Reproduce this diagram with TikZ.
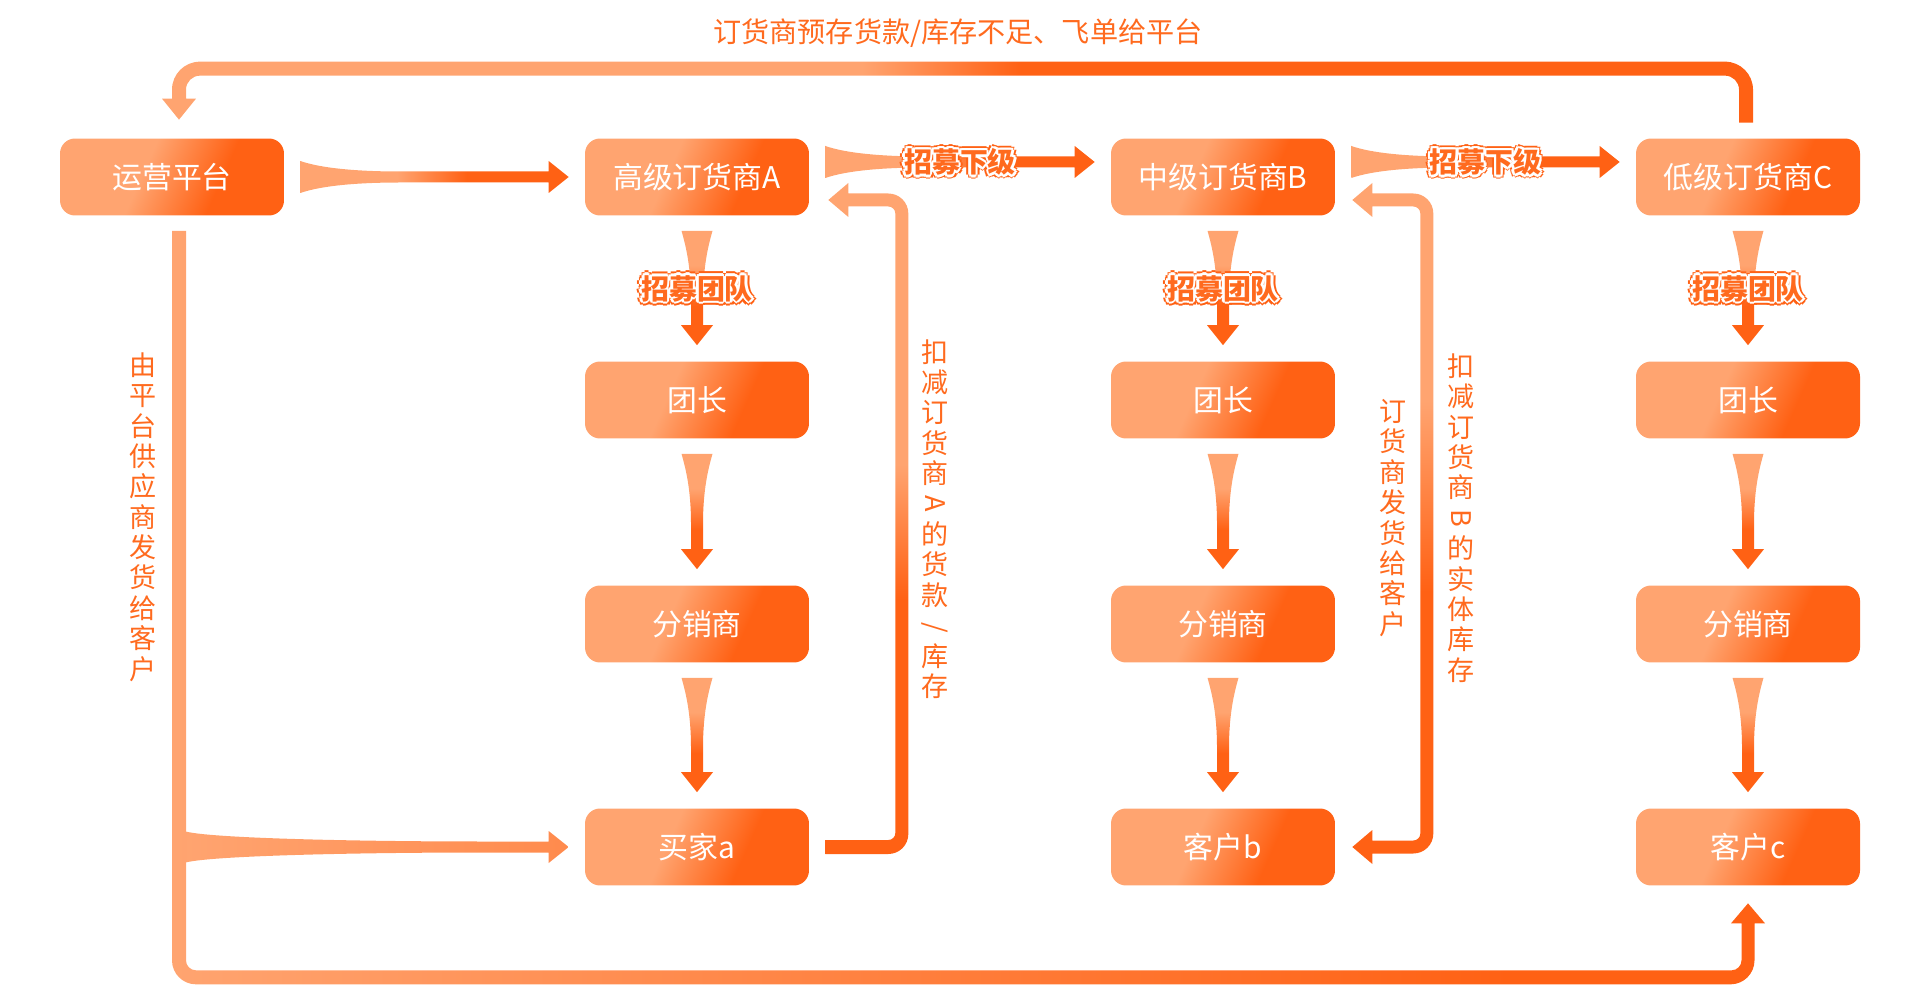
\documentclass[tikz,border=0pt]{standalone}
\usepackage{fontspec}
\newfontfamily\cjkfont{Noto Sans CJK SC}
\usetikzlibrary{calc}

\definecolor{lt}{HTML}{FFA470}
\definecolor{dk}{HTML}{FF6114}
\definecolor{txtorange}{HTML}{FF6A1E}
\colorlet{midorange}{lt!62!dk}

\pgfdeclarehorizontalshading{boxshade}{100bp}{color(0bp)=(lt); color(25bp)=(lt); color(42bp)=(lt); color(63bp)=(dk); color(75bp)=(dk); color(100bp)=(dk)}
\pgfdeclarehorizontalshading{hfade}{100bp}{color(0bp)=(lt); color(25bp)=(lt); color(43bp)=(lt); color(56bp)=(dk); color(75bp)=(dk); color(100bp)=(dk)}
\pgfdeclareverticalshading{vfade}{100bp}{color(0bp)=(dk); color(25bp)=(dk); color(42bp)=(dk); color(60bp)=(lt); color(75bp)=(lt); color(100bp)=(lt)}
\pgfdeclarehorizontalshading{topband}{100bp}{color(0bp)=(lt); color(25bp)=(lt); color(47bp)=(lt); color(52bp)=(dk); color(75bp)=(dk); color(100bp)=(dk)}
\pgfdeclarehorizontalshading{bottomband}{100bp}{color(0bp)=(lt); color(25bp)=(lt); color(67bp)=(dk); color(75bp)=(dk); color(100bp)=(dk)}
\pgfdeclarehorizontalshading{branchfade}{100bp}{color(0bp)=(lt); color(25bp)=(lt); color(75bp)=(midorange); color(100bp)=(midorange)}
\pgfdeclareverticalshading{returnA}{100bp}{color(0bp)=(dk); color(44bp)=(dk); color(54bp)=(lt); color(100bp)=(lt)}
\pgfdeclareverticalshading{returnB}{100bp}{color(0bp)=(dk); color(45bp)=(dk); color(59bp)=(lt); color(100bp)=(lt)}

\tikzset{
  box/.style={shade, shading=boxshade, shading angle=-24, rounded corners=0.3cm,
    minimum width=4.48cm, minimum height=1.54cm, inner sep=0pt, text=white,
    font=\cjkfont\fontsize{17}{17}\selectfont},
  tag/.style={inner sep=0pt, font=\cjkfont\bfseries\fontsize{15.9}{16}\selectfont},
  vlabel/.style={inner sep=0pt, align=center, text=txtorange,
    font=\cjkfont\fontsize{15.4}{17.3}\selectfont},
}

\newcommand\halotext[1]{%
  \foreach \dx/\dy in {2.4/0,-2.4/0,0/2.4,0/-2.4,1.7/1.7,-1.7/1.7,1.7/-1.7,-1.7/-1.7}%
    {\rlap{\hspace{\dx pt}\raisebox{\dy pt}{\color{dk}#1}}}%
  \foreach \dx/\dy in {1.4/0,-1.4/0,0/1.4,0/-1.4,1/1,-1/1,1/-1,-1/-1}%
    {\rlap{\hspace{\dx pt}\raisebox{\dy pt}{\color{white}#1}}}%
  {\color{txtorange}#1}}

\newcommand\vtaper[2]{%
  \shade[shading=vfade] ($(#1.south)+(-15.5,-15)$) .. controls +(4,-14) and +(0,35) .. ($(#1.south)+(-6,-85)$)
    -- ($(#2.north)+(-6,36)$) -- ($(#2.north)+(-16,36)$) -- ($(#2.north)+(0,16)$)
    -- ($(#2.north)+(16,36)$) -- ($(#2.north)+(6,36)$) -- ($(#1.south)+(6,-85)$)
    .. controls +(0,35) and +(-4,-14) .. ($(#1.south)+(15.5,-15)$) -- cycle;}

\newcommand\htaper[6][hfade]{%
  \shade[shading=#1] ($(#2)+(#5,#4+16)$) .. controls +(20,-7) and +({-0.45*#6},0) .. ($(#2)+(#5+#6,#4+5.5)$)
    -- ($(#3)+(-36,#4+5.5)$) -- ($(#3)+(-36,#4+16)$) -- ($(#3)+(-16,#4)$)
    -- ($(#3)+(-36,#4-16)$) -- ($(#3)+(-36,#4-5.5)$) -- ($(#2)+(#5+#6,#4-5.5)$)
    .. controls +({-0.45*#6},0) and +(20,7) .. ($(#2)+(#5,#4-16)$) -- cycle;}

\begin{document}
\begin{tikzpicture}[x=0.02cm, y=0.02cm]
\useasboundingbox (0,0) rectangle (1920,1005);

\node[box] (ops) at (172,828) {运营平台};
\node[box] (grA) at (697,828) {高级订货商A};
\node[box] (grB) at (1223,828) {中级订货商B};
\node[box] (grC) at (1748,828) {低级订货商C};
\node[box] (leadA) at (697,605) {团长};
\node[box] (leadB) at (1223,605) {团长};
\node[box] (leadC) at (1748,605) {团长};
\node[box] (distA) at (697,381) {分销商};
\node[box] (distB) at (1223,381) {分销商};
\node[box] (distC) at (1748,381) {分销商};
\node[box] (buya) at (697,158) {买家a};
\node[box] (cusb) at (1223,158) {客户b};
\node[box] (cusc) at (1748,158) {客户c};

\foreach \a/\b in {grA/leadA,leadA/distA,distA/buya,grB/leadB,leadB/distB,distB/cusb,grC/leadC,leadC/distC,distC/cusc}
  {\vtaper{\a}{\b}}

\htaper{ops.east}{grA.west}{0}{16}{100}
\htaper{grA.east}{grB.west}{15}{16}{100}
\htaper{grB.east}{grC.west}{15}{16}{100}
\coordinate (split) at (ops.south |- buya.west);
\htaper[branchfade]{split}{buya.west}{0}{12}{300}

% platform back to the lowest level
\shade[shading=topband] ($(grC.north)+(5,15.5)$) -- ($(grC.north)+(5,48.5)$)
  arc[start angle=0, end angle=90, radius=28]
  -- ($(ops.north |- grC.north)+(28,76.5)$)
  arc[start angle=90, end angle=180, radius=28]
  -- ($(ops.north)+(0,39.5)$) -- ($(ops.north)+(-10,39.5)$) -- ($(ops.north)+(7,18.5)$)
  -- ($(ops.north)+(24,39.5)$) -- ($(ops.north)+(14,39.5)$)
  -- ($(ops.north |- grC.north)+(14,48.5)$)
  arc[start angle=180, end angle=90, radius=14]
  -- ($(grC.north)+(-23,62.5)$)
  arc[start angle=90, end angle=0, radius=14]
  -- ($(grC.north)+(-9,15.5)$) -- cycle;

\shade[shading=bottomband] ($(ops.south)+(0,-15)$) -- ($(ops.south |- cusc.south)+(0,-74.5)$)
  arc[start angle=180, end angle=270, radius=24]
  -- ($(cusc.south)+(-17.5,-98.5)$)
  arc[start angle=270, end angle=360, radius=24]
  -- ($(cusc.south)+(6.5,-37.5)$) -- ($(cusc.south)+(17,-37.5)$) -- ($(cusc.south)+(0,-17.5)$)
  -- ($(cusc.south)+(-17,-37.5)$) -- ($(cusc.south)+(-6.5,-37.5)$)
  -- ($(cusc.south)+(-6.5,-74.5)$)
  arc[start angle=0, end angle=-90, radius=10]
  -- ($(ops.south |- cusc.south)+(24,-84.5)$)
  arc[start angle=270, end angle=180, radius=10]
  -- ($(ops.south)+(14,-15)$) -- cycle;

\shade[shading=returnA] ($(buya.east)+(16,-7)$) -- ($(buya.east)+(79,-7)$)
  arc[start angle=270, end angle=360, radius=20]
  -- ($(grA.east)+(99,-36.5)$)
  arc[start angle=0, end angle=90, radius=20]
  -- ($(grA.east)+(39,-16.5)$) -- ($(grA.east)+(39,-6)$) -- ($(grA.east)+(19,-23)$)
  -- ($(grA.east)+(39,-40)$) -- ($(grA.east)+(39,-29.5)$)
  -- ($(grA.east)+(79,-29.5)$)
  arc[start angle=90, end angle=0, radius=7]
  -- ($(buya.east)+(86,14)$)
  arc[start angle=0, end angle=-90, radius=7]
  -- ($(buya.east)+(16,7)$) -- cycle;

\shade[shading=returnB] ($(cusb.east)+(37,-6.5)$) -- ($(cusb.east)+(78,-6.5)$)
  arc[start angle=270, end angle=360, radius=20]
  -- ($(grB.east)+(98,-36.5)$)
  arc[start angle=0, end angle=90, radius=20]
  -- ($(grB.east)+(37,-16.5)$) -- ($(grB.east)+(37,-6)$) -- ($(grB.east)+(17,-23)$)
  -- ($(grB.east)+(37,-40)$) -- ($(grB.east)+(37,-29.5)$)
  -- ($(grB.east)+(78,-29.5)$)
  arc[start angle=90, end angle=0, radius=7]
  -- ($(cusb.east)+(85,13.5)$)
  arc[start angle=0, end angle=-90, radius=7]
  -- ($(cusb.east)+(37,6.5)$) -- ($(cusb.east)+(37,17)$) -- ($(cusb.east)+(17,0)$)
  -- ($(cusb.east)+(37,-17)$) -- cycle;

\node[tag] (recA) at ($(grA.east)!0.5!(grB.west)+(0,15)$) {\halotext{招募下级}};
\node[tag] (recB) at ($(grB.east)!0.5!(grC.west)+(0,15)$) {\halotext{招募下级}};
\foreach \a/\b in {grA/leadA,grB/leadB,grC/leadC}
  {\node[tag] at ($(\a.south)!0.5!(\b.north)$) {\halotext{招募团队}};}

\node[text=txtorange, inner sep=0pt, font=\cjkfont\fontsize{16}{16}\selectfont] (topnote) at (958,972) {订货商预存货款/库存不足、飞单给平台};
\node[vlabel] (noteops) at (143,488) {由\\平\\台\\供\\应\\商\\发\\货\\给\\客\\户};
\node[vlabel] (noteA) at (935,486) {扣\\减\\订\\货\\商\\\rotatebox[origin=c]{-90}{A}\\的\\货\\款\\\rotatebox[origin=c]{-90}{/}\\库\\存};
\node[vlabel] (noteB1) at (1393,487) {订\\货\\商\\发\\货\\给\\客\\户};
\node[vlabel] (noteB2) at (1461,487) {扣\\减\\订\\货\\商\\\rotatebox[origin=c]{-90}{B}\\的\\实\\体\\库\\存};
\end{tikzpicture}
\end{document}
